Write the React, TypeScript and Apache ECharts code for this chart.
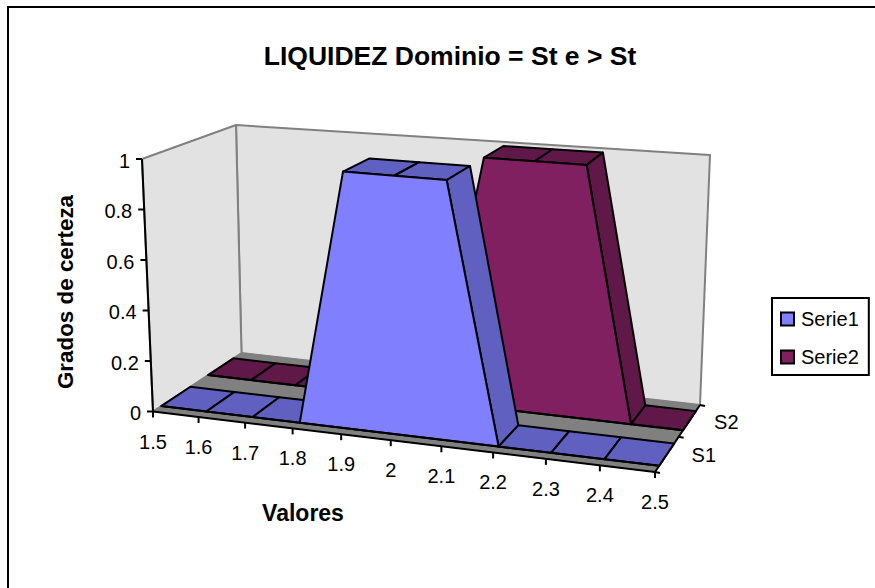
import React, { useEffect, useRef } from "react";
import * as echarts from "echarts";

const titleText = "LIQUIDEZ Dominio = St e > St";
const xTitle = "Valores";
const yTitle = "Grados de certeza";
const categories = [1.5, 1.6, 1.7, 1.8, 1.9, 2, 2.1, 2.2, 2.3, 2.4, 2.5];
const serie1 = [0, 0, 0, 0, 1, 1, 1, 0, 0, 0, 0];
const serie2 = [0, 0, 0, 0, 0, 0, 1, 1, 1, 0, 0];
const yTicks = [0, 0.2, 0.4, 0.6, 0.8, 1];
const depthLabels = ["S1", "S2"];

type Pt = [number, number];
const FONT = "'Liberation Sans', Arial, sans-serif";

// Layout of the hidden scale grid
const G = { left: 0, top: 0, width: 800, height: 500 };

// Projected corners: front-left, front-right, back-right, back-left
const floorQuad: Pt[] = [[153, 411.5], [655, 472], [700, 405], [241.5, 353]];
const topQuad: Pt[] = [[142, 159], [665, 203], [710, 155], [236, 125]];
const warpFloor = 0.055;
const warpTop = -0.115;
const slabs: Record<string, [number, number]> = { Serie1: [0.085, 0.4], Serie2: [0.6, 0.9] };
const colours: Record<string, { face: string; side: string }> = {
  Serie1: { face: "#8080FF", side: "#6060C0" },
  Serie2: { face: "#802060", side: "#601848" },
};

function makeHomography(q: Pt[]) {
  const [[x0, y0], [x1, y1], [x2, y2], [x3, y3]] = q;
  const dx1 = x1 - x2, dx2 = x3 - x2, sx = x0 - x1 + x2 - x3;
  const dy1 = y1 - y2, dy2 = y3 - y2, sy = y0 - y1 + y2 - y3;
  const den = dx1 * dy2 - dx2 * dy1;
  const g = (sx * dy2 - dx2 * sy) / den;
  const h = (dx1 * sy - sx * dy1) / den;
  const a = x1 - x0 + g * x1, b = x3 - x0 + h * x3, c = x0;
  const d = y1 - y0 + g * y1, e = y3 - y0 + h * y3, f = y0;
  return (u: number, v: number): Pt => {
    const k = g * u + h * v + 1;
    return [(a * u + b * v + c) / k, (d * u + e * v + f) / k];
  };
}
const floorAt = makeHomography(floorQuad);
const topAt = makeHomography(topQuad);

function project(u: number, v: number, w: number): Pt {
  const warp = (a: number) => u - a * u * (1 - u);
  const p = floorAt(warp(warpFloor), v), t = topAt(warp(warpTop), v);
  return [p[0] + (t[0] - p[0]) * w, p[1] + (t[1] - p[1]) * w];
}
function fromScale(api: any, x: number, y: number, v: number): Pt {
  const c = api.coord([x, y]);
  return project((c[0] - G.left) / G.width, v, 1 - (c[1] - G.top) / G.height);
}

const poly = (points: Pt[], fill: string, stroke: string, lw = 2, z = 0) => ({
  type: "polygon", z2: z, shape: { points }, style: { fill, stroke, lineWidth: lw, lineJoin: "round" }, silent: true,
});
const seg = (a: Pt, b: Pt, stroke: string, lw = 2) => ({
  type: "line", shape: { x1: a[0], y1: a[1], x2: b[0], y2: b[1] }, style: { stroke, lineWidth: lw }, silent: true,
});
const label = (text: string, x: number, y: number, align: string) => ({
  type: "text", x, y, style: { text, fill: "#000", font: `20px ${FONT}`, align, verticalAlign: "middle" }, silent: true,
});

function renderFrame(_: any, api: any) {
  const a = fromScale(api, categories[0], yTicks[0], 0);
  const b = fromScale(api, categories[categories.length - 1], yTicks[0], 0);
  const c = fromScale(api, categories[categories.length - 1], yTicks[0], 1);
  const d = fromScale(api, categories[0], yTicks[0], 1);
  const at = fromScale(api, categories[0], yTicks[yTicks.length - 1], 0);
  const ct = fromScale(api, categories[categories.length - 1], yTicks[yTicks.length - 1], 1);
  const dt = fromScale(api, categories[0], yTicks[yTicks.length - 1], 1);
  const children: any[] = [
    poly([d, c, ct, dt], "#E2E2E2", "#808080"),
    poly([a, d, dt, at], "#E2E2E2", "#808080"),
    poly([a, b, c, d], "#808080", "#808080", 1),
    seg(a, at, "#000"),
    seg(a, b, "#000"),
    seg(b, c, "#000"),
  ];
  yTicks.forEach((t) => {
    const p = fromScale(api, categories[0], t, 0);
    children.push(seg(p, [p[0] - 6, p[1]], "#000"));
    children.push(label(String(t), p[0] - 12, p[1] + 1.5, "right"));
  });
  categories.forEach((t) => {
    const p = fromScale(api, t, 0, 0);
    children.push(seg(p, [p[0], p[1] + 6], "#000"));
    children.push(label(String(t), p[0], p[1] + 30, "center"));
  });
  [0, 0.5, 1].forEach((v) => {
    const p = fromScale(api, categories[categories.length - 1], 0, v);
    children.push(seg(p, [p[0] + 5, p[1] + 1], "#000"));
  });
  depthLabels.forEach((t, i) => {
    const p = fromScale(api, categories[categories.length - 1], 0, 0.25 + i * 0.5);
    children.push(label(t, p[0] + 24.5, p[1] + 1, "left"));
  });
  return { type: "group", children };
}

function ribbon(name: string) {
  const [v0, v1] = slabs[name];
  const col = colours[name];
  return (params: any, api: any) => {
    const i = params.dataIndex;
    const n = params.dataInsideLength;
    const children: any[] = [];
    if (i < n - 1) {
      const x0 = api.value(0, i), y0 = api.value(1, i);
      const x1 = api.value(0, i + 1), y1 = api.value(1, i + 1);
      if (y1 <= y0) {
        children.push(
          poly(
            [fromScale(api, x0, y0, v0), fromScale(api, x1, y1, v0), fromScale(api, x1, y1, v1), fromScale(api, x0, y0, v1)],
            col.side,
            "#000"
          )
        );
      }
    } else {
      const pts: Pt[] = [];
      for (let k = 0; k < n; k++) {
        if (api.value(1, k) > 0 || (k < n - 1 && api.value(1, k + 1) > 0) || (k > 0 && api.value(1, k - 1) > 0)) {
          pts.push(fromScale(api, api.value(0, k), api.value(1, k), v0));
        }
      }
      const base0 = fromScale(api, categories[0], 0, v0);
      const base1 = fromScale(api, categories[n - 1], 0, v0);
      children.push(poly(pts, col.face, "#000"));
      children.push(seg(base0, base1, "#000"));
    }
    return { type: "group", children };
  };
}

const toPairs = (ys: number[]) => ys.map((y, i) => [categories[i], y]);

export default function App() {
  const ref = useRef<HTMLDivElement>(null);
  useEffect(() => {
    document.body.style.margin = "0";
    const chart = echarts.init(ref.current!, null, { renderer: "svg" });
    chart.setOption({
      animation: false,
      backgroundColor: "#fff",
      title: {
        text: titleText,
        left: 445,
        top: 37,
        textAlign: "center",
        textStyle: { fontFamily: FONT, fontSize: 26.5, fontWeight: "bold", color: "#000" },
      },
      grid: { ...G, show: false, containLabel: false },
      xAxis: { type: "value", min: 1.5, max: 2.5, show: false },
      yAxis: { type: "value", min: 0, max: 1, show: false },
      legend: {
        left: 772,
        top: 298,
        orient: "vertical",
        data: ["Serie1", "Serie2"],
        itemWidth: 13,
        itemHeight: 13,
        itemGap: 18,
        padding: [11, 10, 8, 8],
        borderColor: "#000",
        borderWidth: 2,
        backgroundColor: "#fff",
        icon: "rect",
        selectedMode: false,
        textStyle: { fontFamily: FONT, fontSize: 20, color: "#000", padding: [0, 0, 0, 2] },
      },
      graphic: [
        { type: "polyline", shape: { points: [[8, 588], [8, 7], [875, 7]] }, style: { stroke: "#000", lineWidth: 2, fill: "none" }, silent: true },
        { type: "text", x: 303, y: 513, style: { text: xTitle, fill: "#000", font: `bold 23px ${FONT}`, align: "center", verticalAlign: "middle" }, silent: true },
        { type: "text", x: 65, y: 292, rotation: Math.PI / 2, style: { text: yTitle, fill: "#000", font: `bold 22.4px ${FONT}`, align: "center", verticalAlign: "middle" }, silent: true },
      ],
      series: [
        { type: "custom", name: "frame", coordinateSystem: "cartesian2d", renderItem: renderFrame, data: [[categories[0], 0]], silent: true, clip: false, encode: { x: 0, y: 1 } },
        { type: "custom", name: "Serie2", coordinateSystem: "cartesian2d", renderItem: ribbon("Serie2"), data: toPairs(serie2), silent: true, clip: false, encode: { x: 0, y: 1 }, itemStyle: { color: colours.Serie2.face, borderColor: "#000", borderWidth: 1.5 } },
        { type: "custom", name: "Serie1", coordinateSystem: "cartesian2d", renderItem: ribbon("Serie1"), data: toPairs(serie1), silent: true, clip: false, encode: { x: 0, y: 1 }, itemStyle: { color: colours.Serie1.face, borderColor: "#000", borderWidth: 1.5 } },
      ],
    });
    return () => chart.dispose();
  }, []);
  return <div ref={ref} style={{ width: 875, height: 588 }} />;
}
